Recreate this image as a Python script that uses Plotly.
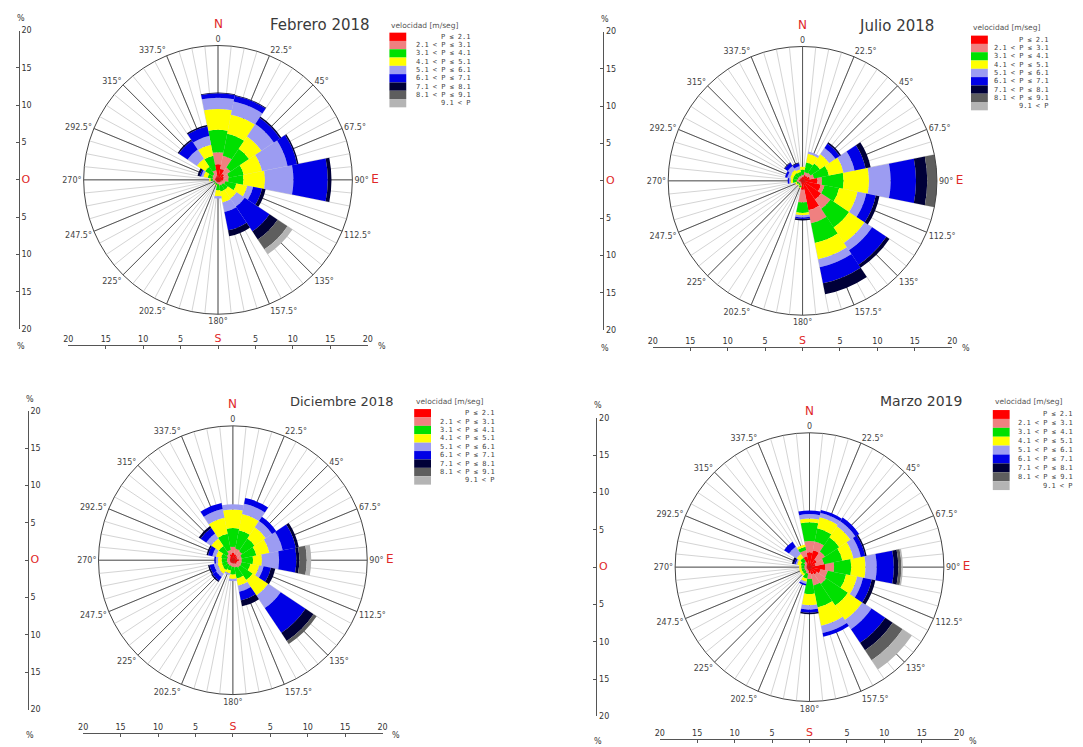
import plotly.graph_objects as go

# ---- data -------------------------------------------------------------
DIRECTIONS = [0, 22.5, 45, 67.5, 90, 112.5, 135, 157.5,
              180, 202.5, 225, 247.5, 270, 292.5, 315, 337.5]
DIR_LABELS = ["0", "22.5°", "45°", "67.5°",
              "90° <span style='color:#e02828;font-size:12px'>E</span>",
              "112.5°", "135°", "157.5°", "180°", "202.5°", "225°", "247.5°",
              "270°", "292.5°", "315°", "337.5°"]

SPEED_BINS = ["P ≤ 2.1", "2.1 < P ≤ 3.1", "3.1 < P ≤ 4.1", "4.1 < P ≤ 5.1",
              "5.1 < P ≤ 6.1", "6.1 < P ≤ 7.1", "7.1 < P ≤ 8.1",
              "8.1 < P ≤ 9.1", "9.1 < P"]
BIN_COLORS = ["#ff0000", "#f08080", "#00e000", "#ffff00", "#9c9cf2",
              "#0000e6", "#000038", "#5e5e5e", "#b4b4b4"]

AXIS_TICKS = [-20, -15, -10, -5, 0, 5, 10, 15, 20]

# frequency (%) per direction (rows, N clockwise) and speed bin (columns)
FEBRERO_2018 = [
    [2.1, 1.6, 3.0, 2.8, 1.5, 0.6, 0.1, 0.0, 0.0],   # N
    [1.5, 1.8, 3.0, 2.6, 1.8, 0.8, 0.1, 0.0, 0.0],   # NNE
    [1.0, 1.0, 3.0, 2.0, 2.0, 1.0, 0.2, 0.0, 0.0],   # NE
    [0.8, 0.7, 2.0, 2.5, 3.5, 1.3, 0.2, 0.0, 0.0],   # ENE
    [0.7, 0.7, 2.0, 2.9, 3.8, 4.6, 0.5, 0.0, 0.0],   # E
    [0.5, 0.5, 1.5, 1.5, 0.8, 1.2, 0.5, 0.0, 0.0],   # ESE
    [0.4, 0.4, 0.8, 1.4, 1.3, 4.0, 1.3, 1.6, 0.8],   # SE
    [0.4, 0.4, 0.8, 1.5, 1.3, 2.5, 0.8, 0.0, 0.0],   # SSE
    [0.3, 0.3, 0.8, 0.8, 0.3, 0.0, 0.0, 0.0, 0.0],   # S
    [0.3, 0.2, 0.2, 0.1, 0.0, 0.0, 0.0, 0.0, 0.0],   # SSW
    [0.3, 0.2, 0.1, 0.0, 0.0, 0.0, 0.0, 0.0, 0.0],   # SW
    [0.3, 0.2, 0.1, 0.0, 0.0, 0.0, 0.0, 0.0, 0.0],   # WSW
    [0.4, 0.3, 0.3, 0.2, 0.0, 0.0, 0.0, 0.0, 0.0],   # W
    [0.4, 0.4, 0.6, 0.6, 0.3, 0.2, 0.3, 0.0, 0.0],   # WNW
    [0.4, 0.5, 1.2, 1.3, 1.5, 1.4, 0.2, 0.0, 0.0],   # NW
    [0.5, 0.8, 2.0, 1.5, 1.2, 1.3, 0.2, 0.0, 0.0],   # NNW
]

JULIO_2018 = [
    [0.5, 0.3, 0.7, 0.4, 0.0, 0.0, 0.0, 0.0, 0.0],
    [0.8, 0.4, 1.3, 1.2, 0.3, 0.0, 0.0, 0.0, 0.0],
    [0.8, 0.5, 1.5, 1.5, 1.0, 0.7, 0.2, 0.0, 0.0],
    [1.0, 0.6, 2.0, 2.0, 1.5, 1.5, 0.7, 0.0, 0.0],
    [2.0, 0.6, 2.9, 3.4, 2.9, 3.4, 1.5, 1.4, 0.3],
    [2.5, 0.5, 2.0, 2.5, 1.2, 1.3, 0.5, 0.0, 0.0],
    [3.0, 1.5, 3.0, 2.5, 1.2, 2.3, 0.5, 0.0, 0.0],
    [4.0, 1.8, 2.7, 2.2, 1.1, 2.2, 1.5, 0.0, 0.0],
    [1.2, 1.7, 1.4, 0.3, 0.3, 0.2, 0.2, 0.0, 0.0],
    [0.4, 0.3, 0.2, 0.1, 0.0, 0.0, 0.0, 0.0, 0.0],
    [0.3, 0.2, 0.2, 0.1, 0.0, 0.0, 0.0, 0.0, 0.0],
    [0.3, 0.3, 0.2, 0.2, 0.0, 0.0, 0.0, 0.0, 0.0],
    [0.5, 0.3, 0.5, 0.3, 0.2, 0.2, 0.0, 0.0, 0.0],
    [0.4, 0.3, 0.6, 0.4, 0.4, 0.3, 0.0, 0.0, 0.0],
    [0.4, 0.3, 0.6, 0.5, 0.6, 0.5, 0.1, 0.0, 0.0],
    [0.4, 0.3, 0.5, 0.4, 0.4, 0.4, 0.1, 0.0, 0.0],
]

DICIEMBRE_2018 = [
    [1.0, 0.8, 2.5, 2.5, 0.7, 0.0, 0.0, 0.0, 0.0],
    [0.8, 0.8, 2.5, 2.2, 1.4, 0.8, 0.0, 0.0, 0.0],
    [0.7, 0.8, 2.0, 1.8, 1.0, 0.7, 0.0, 0.0, 0.0],
    [0.6, 0.6, 2.0, 1.8, 1.8, 1.8, 0.4, 0.0, 0.0],
    [0.8, 0.4, 1.5, 1.2, 2.3, 2.3, 0.4, 1.0, 0.6],
    [0.6, 0.6, 1.2, 1.2, 0.6, 1.0, 0.6, 0.0, 0.0],
    [0.6, 0.6, 2.0, 2.5, 2.0, 4.0, 1.3, 0.5, 0.0],
    [0.5, 0.5, 1.5, 1.0, 0.8, 1.2, 0.8, 0.0, 0.0],
    [0.4, 0.5, 1.0, 0.6, 0.3, 0.0, 0.0, 0.0, 0.0],
    [0.4, 0.4, 0.6, 0.4, 0.2, 0.0, 0.0, 0.0, 0.0],
    [0.4, 0.4, 0.8, 0.6, 0.5, 0.6, 0.2, 0.0, 0.0],
    [0.4, 0.4, 0.7, 0.6, 0.5, 0.6, 0.2, 0.0, 0.0],
    [0.4, 0.4, 0.7, 0.5, 0.3, 0.2, 0.0, 0.0, 0.0],
    [0.4, 0.4, 0.8, 0.7, 0.5, 0.6, 0.2, 0.0, 0.0],
    [0.5, 0.5, 1.3, 1.2, 0.8, 0.9, 0.3, 0.0, 0.0],
    [0.8, 0.6, 2.2, 2.2, 1.2, 0.8, 0.0, 0.0, 0.0],
]

MARZO_2019 = [
    [2.0, 1.5, 2.5, 0.5, 0.6, 0.5, 0.0, 0.0, 0.0],
    [2.3, 1.2, 1.8, 1.5, 0.6, 0.4, 0.0, 0.0, 0.0],
    [1.2, 1.3, 2.3, 1.8, 0.8, 0.6, 0.0, 0.0, 0.0],
    [0.8, 1.2, 2.5, 1.5, 1.0, 0.6, 0.2, 0.0, 0.0],
    [2.1, 1.2, 2.3, 1.9, 1.5, 2.3, 0.6, 0.4, 0.2],
    [1.5, 1.0, 2.5, 1.5, 0.8, 1.2, 0.5, 0.0, 0.0],
    [1.2, 1.5, 3.5, 2.3, 1.5, 2.2, 1.2, 1.6, 1.5],
    [1.0, 1.5, 3.0, 2.5, 1.0, 0.5, 0.0, 0.0, 0.0],
    [0.8, 0.8, 2.0, 1.5, 0.6, 0.4, 0.2, 0.0, 0.0],
    [0.5, 0.4, 0.7, 0.4, 0.3, 0.2, 0.0, 0.0, 0.0],
    [0.4, 0.3, 0.4, 0.3, 0.0, 0.0, 0.0, 0.0, 0.0],
    [0.4, 0.3, 0.4, 0.3, 0.0, 0.0, 0.0, 0.0, 0.0],
    [0.4, 0.3, 0.4, 0.3, 0.0, 0.0, 0.0, 0.0, 0.0],
    [0.4, 0.3, 0.5, 0.5, 0.2, 0.2, 0.3, 0.0, 0.0],
    [0.5, 0.4, 0.6, 0.6, 1.2, 0.8, 0.0, 0.0, 0.0],
    [1.5, 0.8, 0.5, 0.3, 0.0, 0.0, 0.0, 0.0, 0.0],
]

TITLES = ["Febrero 2018", "Julio 2018", "Diciembre 2018", "Marzo 2019"]
TABLES = [FEBRERO_2018, JULIO_2018, DICIEMBRE_2018, MARZO_2019]

# ---- layout geometry (pixels) ----------------------------------------
W, H = 1083, 747
R = 136            # rose radius in px
R_MAX = 18         # % at the outer circle
PX = R / R_MAX     # px per %

PANELS = [
    dict(cx=215, cy=178, ax_x=14, ax_y=345, title=(318, 21, 15),
         leg=(388, 22, 29, 8.4, 472)),
    dict(cx=805, cy=179, ax_x=604, ax_y=347, title=(900, 22, 15),
         leg=(975, 24, 32, 8.4, 1056)),
    dict(cx=230, cy=563, ax_x=23, ax_y=738, title=(340, 402, 13),
         leg=(413, 402, 410, 8.5, 497)),
    dict(cx=812, cy=570, ax_x=597, ax_y=744, title=(925, 402, 14),
         leg=(997, 402, 411, 9.0, 1080)),
]

RED = "#e02828"
GREY_TXT = "#333333"


def px_x(x):
    return x / W


def px_y(y):
    return 1 - y / H


def label(x, y, text, size, color=GREY_TXT, anchor="center", family=None):
    font = dict(size=size, color=color)
    if family:
        font["family"] = family
    return dict(x=px_x(x), y=px_y(y), xref="paper", yref="paper",
                xanchor=anchor, yanchor="middle", text=text,
                showarrow=False, font=font)


fig = go.Figure()
layout = dict(
    width=W, height=H, autosize=False,
    margin=dict(l=0, r=0, t=0, b=0),
    paper_bgcolor="white", plot_bgcolor="rgba(0,0,0,0)",
    showlegend=False,
    font=dict(family="DejaVu Sans", color=GREY_TXT),
)
annotations = []
shapes = []

for i, (p, title, table) in enumerate(zip(PANELS, TITLES, TABLES)):
    cx, cy = p["cx"], p["cy"]
    dom_x = [px_x(cx - R), px_x(cx + R)]
    dom_y = [px_y(cy + R), px_y(cy - R)]
    minor_key = "polar" if i == 0 else f"polar{2 * i + 1}"
    main_key = f"polar{2 * i + 2}"

    # light sector lines underneath
    layout[minor_key] = dict(
        domain=dict(x=dom_x, y=dom_y),
        bgcolor="white",
        angularaxis=dict(rotation=90, direction="clockwise",
                         tickmode="linear", tick0=0, dtick=5.625,
                         showticklabels=False, ticks="", showline=False,
                         gridcolor="#d4d4d4", gridwidth=1),
        radialaxis=dict(visible=False, range=[0, R_MAX]),
    )
    fig.add_trace(go.Scatterpolar(r=[], theta=[], subplot=minor_key,
                                  showlegend=False, hoverinfo="skip"))

    # main rose: direction lines, outer circle and stacked speed bins
    layout[main_key] = dict(
        domain=dict(x=dom_x, y=dom_y),
        bgcolor="rgba(0,0,0,0)",
        barmode="stack", bargap=0,
        angularaxis=dict(rotation=90, direction="clockwise",
                         tickmode="array", tickvals=DIRECTIONS,
                         ticktext=DIR_LABELS, ticks="",
                         tickfont=dict(size=8, color="#444444"),
                         showline=True, linecolor="#444444", linewidth=1,
                         gridcolor="#555555", gridwidth=1),
        radialaxis=dict(visible=False, range=[0, R_MAX]),
    )
    for b in range(len(SPEED_BINS)):
        fig.add_trace(go.Barpolar(
            r=[row[b] for row in table], theta=DIRECTIONS, width=22.5,
            marker=dict(color=BIN_COLORS[b], line=dict(width=0)),
            name=SPEED_BINS[b], subplot=main_key, showlegend=False,
        ))

    # % scale axes (left and bottom)
    xk = "xaxis" if i == 0 else f"xaxis{i + 1}"
    yk = "yaxis" if i == 0 else f"yaxis{i + 1}"
    xr = "x" if i == 0 else f"x{i + 1}"
    yr = "y" if i == 0 else f"y{i + 1}"
    span = 20 * PX
    x_text = [str(abs(v)) if v else f"<span style='color:{RED};font-size:11px'>S</span>"
              for v in AXIS_TICKS]
    y_text = [str(abs(v)) if v else f"<span style='color:{RED};font-size:11px'>O</span>"
              for v in AXIS_TICKS]
    common = dict(range=[-20, 20], anchor="free",
                  tickmode="array", tickvals=AXIS_TICKS,
                  ticks="inside", ticklen=3, tickcolor="#555555",
                  showline=True, linecolor="#555555", linewidth=1,
                  showgrid=False, zeroline=False, fixedrange=True,
                  tickfont=dict(size=8, color=GREY_TXT))
    layout[xk] = dict(domain=[px_x(cx - span), px_x(cx + span)],
                      position=px_y(p["ax_y"]), side="top",
                      ticktext=x_text, **common)
    layout[yk] = dict(domain=[px_y(cy + span), px_y(cy - span)],
                      position=px_x(p["ax_x"]), side="right",
                      ticktext=y_text, **common)
    fig.add_trace(go.Scatter(x=[], y=[], xaxis=xr, yaxis=yr,
                             showlegend=False, hoverinfo="skip"))

    # "%" units and the N marker
    annotations.append(label(p["ax_x"] + 2, cy - span - 12, "%", 8))
    annotations.append(label(p["ax_x"] + 2, p["ax_y"] + 2, "%", 8))
    annotations.append(label(cx + span + 14, p["ax_y"] + 2, "%", 8))
    annotations.append(label(cx, cy - R - 22, "N", 12, color=RED))

    # title
    tx, ty, ts = p["title"]
    annotations.append(label(tx, ty, title, ts, color="#3a3a3a"))

    # speed legend
    lx, lty, top, rh, txr = p["leg"]
    annotations.append(label(lx, lty, "velocidad [m/seg]", 7.5,
                             color="#555555", anchor="left"))
    for b, (lab, col) in enumerate(zip(SPEED_BINS, BIN_COLORS)):
        y0 = top + b * rh
        shapes.append(dict(type="rect", xref="paper", yref="paper",
                           x0=px_x(lx), x1=px_x(lx + 17),
                           y0=px_y(y0 + rh), y1=px_y(y0),
                           fillcolor=col, line=dict(width=0)))
        annotations.append(label(txr, y0 + rh / 2, lab, 7, color="#444444",
                                 anchor="right", family="DejaVu Sans Mono"))

layout["annotations"] = annotations
layout["shapes"] = shapes
fig.update_layout(**layout)
fig.write_html("out.html")
